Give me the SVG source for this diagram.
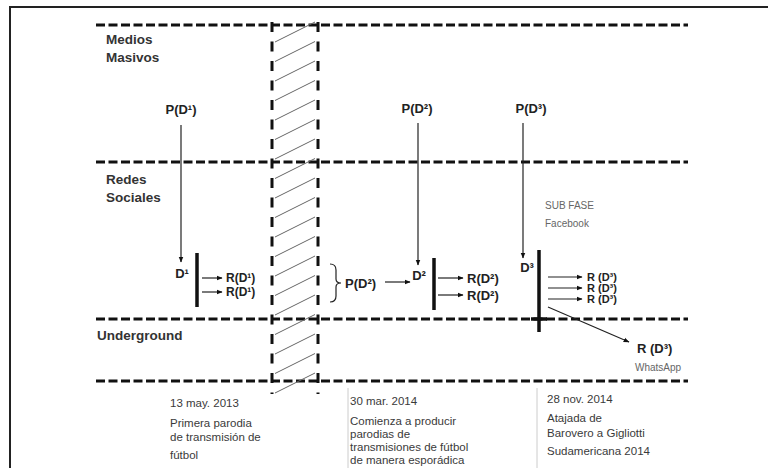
<svg xmlns="http://www.w3.org/2000/svg" width="768" height="468" viewBox="0 0 768 468">
<style>
.bg{fill:#fff}
.frame{fill:none;stroke:#222;stroke-width:2}
.hd{fill:none;stroke:#111;stroke-width:3;stroke-dasharray:9 3.5}
.vd{fill:none;stroke:#111;stroke-width:3;stroke-dasharray:10 9.5}
.hatch{stroke:#666;stroke-width:1}
.ln{stroke:#222;stroke-width:1.2;fill:none}
.bar{stroke:#111;stroke-width:3.5}
.faint{stroke:#ccc;stroke-width:1}
.lbl{font-family:"Liberation Sans",Arial,sans-serif;font-weight:bold;font-size:13px;fill:#222}
.lbs{font-family:"Liberation Sans",Arial,sans-serif;font-weight:bold;font-size:12px;fill:#222}
.zone{font-family:"Liberation Sans",Arial,sans-serif;font-weight:bold;font-size:13.5px;fill:#333}
.note{font-family:"Liberation Sans",Arial,sans-serif;font-size:11.5px;fill:#3a3a3a}
.small{font-family:"Liberation Sans",Arial,sans-serif;font-size:10px;fill:#666}
.big{font-family:"Liberation Sans",Arial,sans-serif;font-weight:bold;font-size:13px;fill:#222}
.stk{font-family:"Liberation Sans",Arial,sans-serif;font-weight:bold;font-size:11px;fill:#222}
</style>
<defs>
<marker id="ah" viewBox="0 0 10 10" refX="9" refY="5" markerWidth="6" markerHeight="6" markerUnits="userSpaceOnUse" orient="auto">
<path d="M0,1 L10,5 L0,9 Z" fill="#111"/>
</marker>
<clipPath id="cut"><rect x="0" y="0" width="689" height="468"/></clipPath>
</defs>
<rect class="bg" x="0" y="0" width="768" height="468"/>
<rect class="frame" x="10" y="7" width="800" height="500"/>

<g id="lanes">
<line class="hd" x1="96" y1="25" x2="688" y2="25"/>
<line class="hd" x1="96" y1="162" x2="688" y2="162"/>
<line class="hd" x1="96" y1="319" x2="688" y2="319"/>
<line class="hd" x1="96" y1="381" x2="688" y2="381"/>
<line class="faint" x1="348" y1="388" x2="348" y2="468"/>
<line class="faint" x1="537" y1="388" x2="537" y2="468"/>
</g>

<g id="band">
<line class="vd" x1="272" y1="22" x2="272" y2="394"/>
<line class="vd" x1="318" y1="22" x2="318" y2="394"/>
<line class="hatch" x1="275" y1="42" x2="315" y2="22"/>
<line class="hatch" x1="275" y1="61.5" x2="315" y2="41.5"/>
<line class="hatch" x1="275" y1="81" x2="315" y2="61"/>
<line class="hatch" x1="275" y1="100.5" x2="315" y2="80.5"/>
<line class="hatch" x1="275" y1="120" x2="315" y2="100"/>
<line class="hatch" x1="275" y1="139.5" x2="315" y2="119.5"/>
<line class="hatch" x1="275" y1="159" x2="315" y2="139"/>
<line class="hatch" x1="275" y1="178.5" x2="315" y2="158.5"/>
<line class="hatch" x1="275" y1="198" x2="315" y2="178"/>
<line class="hatch" x1="275" y1="217.5" x2="315" y2="197.5"/>
<line class="hatch" x1="275" y1="237" x2="315" y2="217"/>
<line class="hatch" x1="275" y1="256.5" x2="315" y2="236.5"/>
<line class="hatch" x1="275" y1="276" x2="315" y2="256"/>
<line class="hatch" x1="275" y1="295.5" x2="315" y2="275.5"/>
<line class="hatch" x1="275" y1="315" x2="315" y2="295"/>
<line class="hatch" x1="275" y1="334.5" x2="315" y2="314.5"/>
<line class="hatch" x1="275" y1="354" x2="315" y2="334"/>
<line class="hatch" x1="275" y1="373.5" x2="315" y2="353.5"/>
<line class="hatch" x1="275" y1="393" x2="315" y2="373"/>
</g>

<g id="zone-labels">
<text class="zone" x="106" y="44">Medios</text>
<text class="zone" x="106" y="62">Masivos</text>
<text class="zone" x="106" y="184">Redes</text>
<text class="zone" x="106" y="202">Sociales</text>
<text class="zone" x="97" y="340">Underground</text>
</g>

<g id="node-p1"><text class="lbl" x="181" y="114" text-anchor="middle">P(D¹)</text></g>
<g id="node-d1"><text class="lbl" x="182" y="278" text-anchor="middle">D¹</text><line class="bar" x1="197" y1="253" x2="197" y2="307"/></g>
<g id="node-r1a"><text class="lbs" x="226" y="282">R(D¹)</text></g>
<g id="node-r1b"><text class="lbs" x="226" y="296">R(D¹)</text></g>

<g id="node-p2a"><text class="lbl" x="417" y="113" text-anchor="middle">P(D²)</text></g>
<g id="node-brace"><path class="ln" d="M330,264 Q336,264 336,270 L336,279 Q336,283 341,283 Q336,283 336,287 L336,296 Q336,302 330,302" stroke-width="2"/></g>
<g id="node-p2b"><text class="lbl" x="345" y="288">P(D²)</text></g>
<g id="node-d2"><text class="lbl" x="419" y="280" text-anchor="middle">D²</text><line class="bar" x1="434" y1="258" x2="434" y2="310"/></g>
<g id="node-r2a"><text class="lbl" x="467" y="283">R(D²)</text></g>
<g id="node-r2b"><text class="lbl" x="467" y="300">R(D²)</text></g>

<g id="node-p3"><text class="lbl" x="531" y="113" text-anchor="middle">P(D³)</text></g>
<g id="node-subfase"><text class="small" x="545" y="209">SUB FASE</text><text class="small" x="545" y="227">Facebook</text></g>
<g id="node-d3"><text class="lbl" x="527" y="272" text-anchor="middle">D³</text><line class="bar" x1="539" y1="250" x2="539" y2="332"/><line class="bar" x1="531" y1="319" x2="547" y2="319"/></g>
<g id="node-r3"><text class="stk" x="587" y="281">R (D³)<tspan x="587" dy="11">R (D³)</tspan><tspan x="587" dy="11">R (D³)</tspan></text></g>
<g id="node-r3w"><text class="big" x="637" y="353">R (D³)</text><text class="small" x="635" y="371" clip-path="url(#cut)">WhatsApp</text></g>

<g id="connectors">
<line class="ln" x1="181" y1="125" x2="181" y2="262" marker-end="url(#ah)"/>
<line class="ln" x1="202" y1="278" x2="222" y2="278" marker-end="url(#ah)" stroke-width="1.6"/>
<line class="ln" x1="202" y1="292" x2="222" y2="292" marker-end="url(#ah)" stroke-width="1.6"/>
<line class="ln" x1="418" y1="123" x2="418" y2="265" marker-end="url(#ah)"/>
<line class="ln" x1="385" y1="282" x2="410" y2="282" marker-end="url(#ah)"/>
<line class="ln" x1="438" y1="278" x2="463" y2="278" marker-end="url(#ah)" stroke-width="1.6"/>
<line class="ln" x1="438" y1="295" x2="463" y2="295" marker-end="url(#ah)" stroke-width="1.6"/>
<line class="ln" x1="523" y1="123" x2="523" y2="258" marker-end="url(#ah)"/>
<line class="ln" x1="548" y1="277" x2="582" y2="277" marker-end="url(#ah)" stroke-width="1.6"/>
<line class="ln" x1="548" y1="288" x2="582" y2="288" marker-end="url(#ah)" stroke-width="1.6"/>
<line class="ln" x1="548" y1="299" x2="582" y2="299" marker-end="url(#ah)" stroke-width="1.6"/>
<line class="ln" x1="548" y1="307" x2="629" y2="342" marker-end="url(#ah)" stroke-width="1.6"/>
</g>

<g id="node-date1">
<text class="note" x="170" y="407">13 may. 2013</text>
<text class="note" x="170" y="427">Primera parodia</text>
<text class="note" x="170" y="441">de transmisión de</text>
<text class="note" x="170" y="459">fútbol</text>
</g>
<g id="node-date2">
<text class="note" x="350" y="405">30 mar. 2014</text>
<text class="note" x="350" y="425">Comienza a producir</text>
<text class="note" x="350" y="438">parodias de</text>
<text class="note" x="350" y="451">transmisiones de fútbol</text>
<text class="note" x="350" y="464">de manera esporádica</text>
</g>
<g id="node-date3">
<text class="note" x="547" y="403">28 nov. 2014</text>
<text class="note" x="547" y="422">Atajada de</text>
<text class="note" x="547" y="437">Barovero a Gigliotti</text>
<text class="note" x="547" y="455">Sudamericana 2014</text>
</g>
</svg>
